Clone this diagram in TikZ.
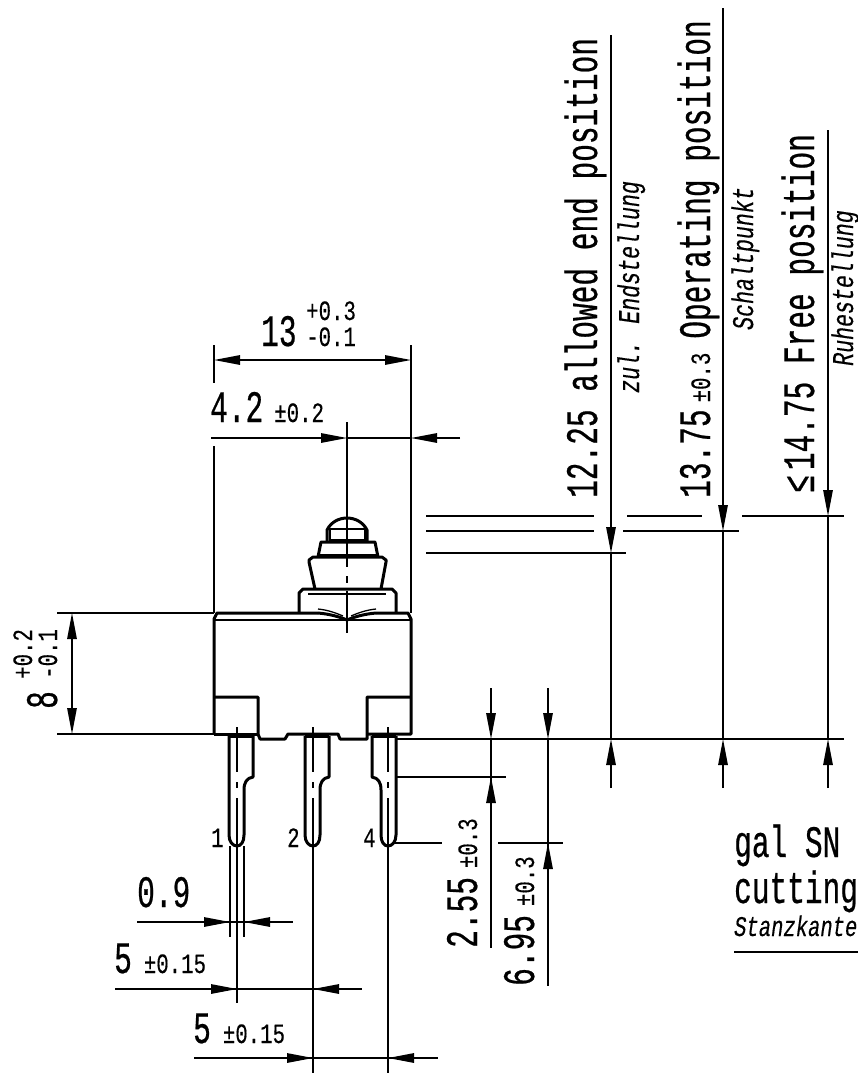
\documentclass[tikz,border=0pt]{standalone}
\usepackage{fontspec}
\usepackage{xcolor}
\usetikzlibrary{arrows.meta}
\newfontfamily\isofont[FakeStretch=0.655,FakeBold=0.5]{Liberation Mono}
\newfontfamily\tolfont[FakeStretch=0.74,FakeBold=0.3]{Liberation Mono}
\newfontfamily\itfont[FakeStretch=0.72,FakeBold=0.3]{Liberation Mono Italic}
\newcommand\BigFont{\isofont\fontsize{45}{48}\selectfont}
\newcommand\TolFont{\tolfont\fontsize{28}{30}\selectfont}
\newcommand\ItFont{\itfont\fontsize{30}{32}\selectfont}
\newcommand\Tol[1]{{\TolFont #1}}
\newcommand\BaseY{739}
\newcommand\BodyL{214}
\newcommand\BodyR{411}
\newcommand\BodyT{613}
\newcommand\BodyB{734}
\newcommand\AxisX{347}
\tikzstyle{outline}=[line width=3pt,line join=round]
\tikzstyle{thinpart}=[line width=1.3pt]
\tikzstyle{dimline}=[line width=1.3pt]
\tikzstyle{dimtip}=[line width=1.3pt,-{Triangle[length=26pt,width=9.5pt]}]
\tikzstyle{bigtext}=[font=\BigFont,inner sep=0pt,anchor=base west]
\tikzstyle{toltext}=[font=\TolFont,inner sep=0pt,anchor=base west]
\tikzstyle{ittext}=[font=\ItFont,inner sep=0pt,anchor=base west]
\begin{document}
\begin{tikzpicture}[x=1pt,y=-1pt]
      \useasboundingbox (0,0) rectangle (858,1079);
      % housing
      \draw[outline] (\BodyL,\BodyB) -- (\BodyL,619) -- (217,613) -- (318,613);
      \draw[outline] (376,613) -- (408,613) -- (\BodyR,619) -- (\BodyR,\BodyB) -- (367,\BodyB);
      \draw[outline] (\BodyL,\BodyB) -- (258,\BodyB);
      \draw[thinpart] (\BodyL,620) -- (\BodyR,620);
      \draw[outline] (\BodyL,697) -- (258,697) -- (258,734) -- (260,739) -- (285,739) -- (288,734) -- (338,734) -- (340,739) -- (367,739) -- (367,697) -- (\BodyR,697);
      % plunger
      \draw[outline] (299,613) -- (299,593) -- (303,589) -- (392,589) -- (396,593) -- (396,613);
      \draw[thinpart] (308,594) -- (386,594);
      \draw[outline] (315,589) -- (309,562) -- (309,560) -- (313,557) -- (382,557) -- (386,560) -- (386,562) -- (381,589);
      \draw[outline] (318,557) -- (321,542) -- (375,542) -- (378,557);
      \draw[line width=3.5pt] (320,556) -- (376,556);
      \draw[outline] (327,542) -- (327,530) .. controls (331,522) and (339,518) .. (347,518) .. controls (355,518) and (363,522) .. (367,530) -- (367,542);
      \draw[thinpart] (328,529) -- (366,529);
      \draw[thinpart] (330,529) -- (330,540) -- (365,540) -- (365,529);
      \draw[outline] (318,613) .. controls (330,614) and (340,617) .. (347,620) .. controls (354,617) and (364,614) .. (376,613);
      \draw[thinpart] (318,609) .. controls (328,610) and (336,613) .. (343,616);
      \draw[thinpart] (376,609) .. controls (366,610) and (358,613) .. (351,616);
      % axis of the plunger
      \draw[dimline] (\AxisX,422) -- (\AxisX,567);
      \draw[dimline] (\AxisX,576) -- (\AxisX,583);
      \draw[dimline] (\AxisX,591) -- (\AxisX,633);
      % pins
      \foreach \PinX/\PinS/\PinEnd in {237/1/1003,313/1/1073,388/-1/1073} {
        \draw[outline,shift={(\PinX,0)},xscale=\PinS] (-8,736) -- (-8,835) .. controls (-8,842) and (-4,846) .. (0,846) .. controls (4,846) and (7,842) .. (7,835) -- (7,790) .. controls (7,782) and (10,778) .. (16,777) -- (16,736);
        \draw[line width=4pt,shift={(\PinX,0)},xscale=\PinS] (-8,736) -- (16,736);
        \draw[dimline] (\PinX,727) -- (\PinX,772);
        \draw[dimline] (\PinX,782) -- (\PinX,788);
        \draw[dimline] (\PinX,798) -- (\PinX,\PinEnd);
      }
      \node[toltext] (pinone) at (211,847) {1};
      \node[toltext] (pintwo) at (287,847) {2};
      \node[toltext] (pinfour) at (363,847) {4};
      % width 13
      \draw[dimline] (\BodyL,345) -- (\BodyL,383);
      \draw[dimline] (\BodyL,446) -- (\BodyL,\BodyT);
      \draw[dimline] (\BodyR,345) -- (\BodyR,\BodyT);
      \draw[dimline] (241,360) -- (384,360);
      \draw[dimtip] (241,360) -- (\BodyL,360);
      \draw[dimtip] (384,360) -- (\BodyR,360);
      \node[bigtext] (widthval) at (261,346) {13};
      \node[toltext] (widthup) at (306,320) {+0.3};
      \node[toltext] (widthlow) at (306,346) {-0.1};
      % offset 4.2
      \draw[dimtip] (211,438) -- (\AxisX,438);
      \draw[dimline] (\AxisX,438) -- (\BodyR,438);
      \draw[dimtip] (460,438) -- (\BodyR,438);
      \node[bigtext] (offset) at (210,422) {4.2\hspace{11pt}\Tol{±0.2}};
      % height 8
      \draw[dimline] (57,\BodyT) -- (\BodyL,\BodyT);
      \draw[dimline] (57,\BodyB) -- (\BodyL,\BodyB);
      \draw[dimline] (72,639) -- (72,707);
      \draw[dimtip] (72,639) -- (72,\BodyT);
      \draw[dimtip] (72,707) -- (72,\BodyB);
      \node[bigtext,rotate=90] (heightval) at (57,709) {8};
      \node[toltext,rotate=90] (heightup) at (32,679) {+0.2};
      \node[toltext,rotate=90] (heightlow) at (57,679) {-0.1};
      % pin width 0.9
      \draw[dimline] (230,846) -- (230,937);
      \draw[dimline] (244,846) -- (244,937);
      \draw[dimline] (137,922) -- (293,922);
      \draw[dimtip] (203,922) -- (230,922);
      \draw[dimtip] (271,922) -- (244,922);
      \node[bigtext] (pinwidth) at (137,907) {0.9};
      % pitch
      \draw[dimline] (115,989) -- (362,989);
      \draw[dimtip] (210,989) -- (237,989);
      \draw[dimtip] (340,989) -- (313,989);
      \node[bigtext] (pitchone) at (114,973) {5\hspace{12pt}\Tol{±0.15}};
      \draw[dimline] (194,1058) -- (438,1058);
      \draw[dimtip] (286,1058) -- (313,1058);
      \draw[dimtip] (415,1058) -- (388,1058);
      \node[bigtext] (pitchtwo) at (193,1043) {5\hspace{12pt}\Tol{±0.15}};
      % switching positions
      \draw[dimline] (426,516) -- (594,516);
      \draw[dimline] (627,516) -- (702,516);
      \draw[dimline] (742,516) -- (844,516);
      \draw[dimline] (426,531) -- (594,531);
      \draw[dimline] (623,531) -- (739,531);
      \draw[dimline] (426,553) -- (626,553);
      \draw[dimline] (396,\BaseY) -- (844,\BaseY);
      \draw[dimtip] (611,35) -- (611,553);
      \draw[dimline] (611,553) -- (611,\BaseY);
      \draw[dimtip] (611,788) -- (611,\BaseY);
      \draw[dimtip] (723,8) -- (723,531);
      \draw[dimline] (723,531) -- (723,\BaseY);
      \draw[dimtip] (723,788) -- (723,\BaseY);
      \draw[dimtip] (828,130) -- (828,516);
      \draw[dimline] (828,516) -- (828,\BaseY);
      \draw[dimtip] (828,788) -- (828,\BaseY);
      \node[bigtext,rotate=90] (endpos) at (597,498) {12.25 allowed end position};
      \node[ittext,rotate=90] (endpostext) at (639,393) {zul. Endstellung};
      \node[bigtext,rotate=90] (oppos) at (710,498) {13.75\hspace{7pt}\Tol{±0.3}\hspace{14pt}Operating position};
      \node[ittext,rotate=90] (oppostext) at (753,330) {Schaltpunkt};
      \node[bigtext,rotate=90] (freepos) at (814,493) {≤\hspace{5pt}14.75 Free position};
      \node[ittext,rotate=90] (freepostext) at (853,366) {Ruhestellung};
      % terminal offsets
      \draw[dimtip] (491,688) -- (491,\BaseY);
      \draw[dimtip] (548,688) -- (548,\BaseY);
      \draw[dimline] (548,\BaseY) -- (548,986);
      \draw[dimline] (491,\BaseY) -- (491,948);
      \draw[dimtip] (491,804) -- (491,777);
      \draw[dimtip] (548,870) -- (548,843);
      \draw[dimline] (396,777) -- (506,777);
      \draw[dimline] (392,843) -- (442,843);
      \draw[dimline] (498,843) -- (563,843);
      \node[bigtext,rotate=90] (termone) at (477,948) {2.55\hspace{9pt}\Tol{±0.3}};
      \node[bigtext,rotate=90] (termtwo) at (534,986) {6.95\hspace{9pt}\Tol{±0.3}};
      % note
      \node[bigtext] (noteone) at (734,857) {gal SN};
      \node[bigtext] (notetwo) at (734,903) {cutting};
      \node[ittext,font=\itfont\fontsize{28.5}{30}\selectfont] (notethree) at (734,936) {Stanzkante};
      \draw[dimline] (734,952) -- (858,952);
   \end{tikzpicture}
\end{document}
